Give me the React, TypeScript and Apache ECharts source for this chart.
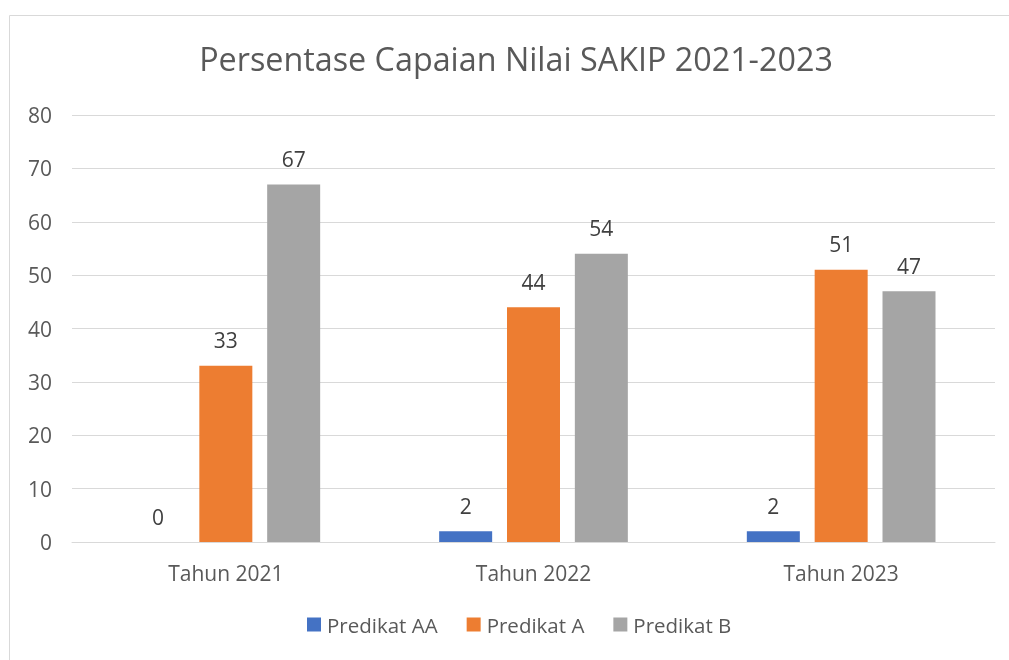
import React, { useEffect, useRef } from "react";
import * as echarts from "echarts";

const categories = ["Tahun 2021", "Tahun 2022", "Tahun 2023"];
const predikatAA = [0, 2, 2];
const predikatA = [33, 44, 51];
const predikatB = [67, 54, 47];
const yTicks = { min: 0, max: 80, interval: 10 };

const FONT = "'Open Sans', 'Noto Sans', sans-serif";
const TXT = "#595959";

export default function App() {
  const ref = useRef<HTMLDivElement>(null);
  useEffect(() => {
    if (!ref.current) return;
    const chart = echarts.init(ref.current, null, { renderer: "svg" });
    const label = {
      show: true,
      position: "top",
      distance: 15,
      color: "#404040",
      fontSize: 21,
      fontFamily: FONT,
    };
    chart.setOption({
      animation: false,
      textStyle: { fontFamily: FONT },
      title: {
        text: "Persentase Capaian Nilai SAKIP 2021-2023",
        left: 503,
        textAlign: "center",
        top: 29,
        textStyle: { fontSize: 32.3, fontWeight: "normal", color: TXT, fontFamily: FONT },
      },
      graphic: [
        {
          type: "rect",
          shape: { x: 1.5, y: 7.5, width: 1020, height: 700 },
          style: { fill: "none", stroke: "#D9D9D9", lineWidth: 1 },
          silent: true,
        },
      ],
      legend: {
        top: 601,
        left: 294,
        itemWidth: 14,
        itemHeight: 14,
        itemGap: 29,
        icon: "rect",
        textStyle: { fontSize: 20.5, color: TXT, fontFamily: FONT, padding: [0, 0, 0, 1] },
        data: ["Predikat AA", "Predikat A", "Predikat B"],
      },
      grid: { left: 64, right: 14, top: 107, bottom: 118 },
      xAxis: {
        type: "category",
        data: categories,
        axisLine: { lineStyle: { color: "#D9D9D9", width: 1 } },
        axisTick: { show: false },
        axisLabel: { fontSize: 21, color: TXT, margin: 20, fontFamily: FONT },
      },
      yAxis: {
        type: "value",
        min: yTicks.min,
        max: yTicks.max,
        interval: yTicks.interval,
        axisLine: { show: false },
        axisTick: { show: false },
        splitLine: { lineStyle: { color: "#D9D9D9", width: 1 } },
        axisLabel: { fontSize: 21, color: TXT, margin: 20, fontFamily: FONT },
      },
      series: [
        { name: "Predikat AA", type: "bar", data: predikatAA, barWidth: 53, barGap: "28%", itemStyle: { color: "#4472C4" }, label },
        { name: "Predikat A", type: "bar", data: predikatA, barWidth: 53, barGap: "28%", itemStyle: { color: "#ED7D31" }, label },
        { name: "Predikat B", type: "bar", data: predikatB, barWidth: 53, barGap: "28%", itemStyle: { color: "#A5A5A5" }, label },
      ],
    });
    return () => chart.dispose();
  }, []);
  return (
    <div
      ref={ref}
      style={{ position: "fixed", left: 8, top: 8, width: 1001, height: 652 }}
    />
  );
}
